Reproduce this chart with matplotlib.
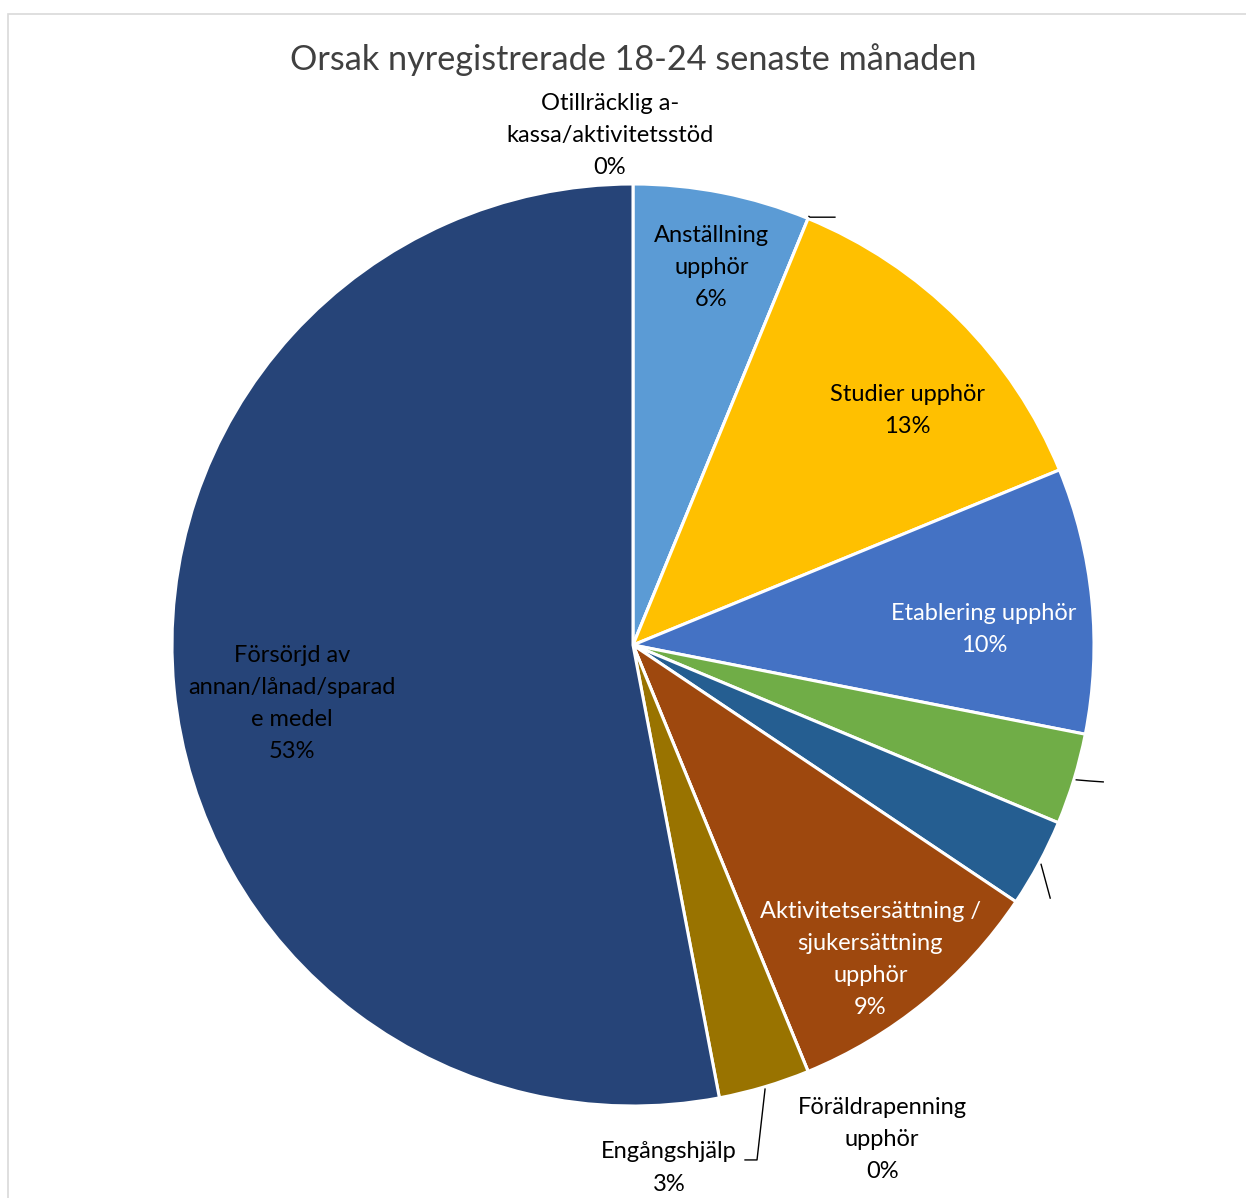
import numpy as np
import matplotlib.pyplot as plt
from matplotlib.patches import Rectangle

# data (shares in %, clockwise from 12 o'clock)
categories = ["Otillräcklig a-\nkassa/aktivitetsstöd", "Anställning\nupphör", "",
              "Studier upphör", "Etablering upphör", "", "",
              "Aktivitetsersättning /\nsjukersättning\nupphör", "Föräldrapenning\nupphör",
              "Engångshjälp", "Försörjd av\nannan/lånad/sparad\ne medel"]
shares = [0.0, 6.2, 0.0, 12.6, 9.3, 3.2, 3.1, 9.4, 0.0, 3.2, 53.0]
pct_labels = ["0%", "6%", "", "13%", "10%", "", "", "9%", "0%", "3%", "53%"]

# styling
colors = ["#4472C4", "#5B9BD5", "#ED7D31", "#FFC000", "#4472C4", "#70AD47", "#255E91",
          "#9E480E", "#636363", "#997300", "#264478"]
text_colors = ["black", "black", "black", "black", "white", "black", "black",
               "white", "black", "black", "black"]
label_r = [1.107, 0.836, 0, 0.783, 0.762, 0, 0, 0.855, 1.202, 1.137, 0.751]
label_shift = [2.6, -0.6, 0, -4.4, -3.1, 0, 0, -2.2, 4.4, -12.6, 4.3]
FS = 17

plt.rcParams['font.family'] = ['Lato', 'DejaVu Sans']

W, H = 1246, 1198
fig = plt.figure(figsize=(W / 100, H / 100), dpi=100)
fig.patches.append(Rectangle((8 / W, -0.1), 1.2, 1 - 14 / H + 0.1, transform=fig.transFigure,
                             fill=False, edgecolor="#D9D9D9", linewidth=1.2))

cx, cy, R = 633, 645, 461
ax = fig.add_axes([(cx - R) / W, (H - cy - R) / H, 2 * R / W, 2 * R / H])

wedges, _ = ax.pie(shares, colors=colors, startangle=90, counterclock=False, radius=1,
                   wedgeprops=dict(edgecolor="white", linewidth=2.2))
ax.set_xlim(-1, 1)
ax.set_ylim(-1, 1)
ax.axis("off")

for i, w in enumerate(wedges):
    if not categories[i]:
        continue
    mid = np.deg2rad((w.theta1 + w.theta2) / 2 + label_shift[i])
    x, y = label_r[i] * np.cos(mid), label_r[i] * np.sin(mid)
    txt = categories[i] + "\n" + pct_labels[i]
    if categories[i] == "Engångshjälp":
        ax.text(x, y + 0.035, categories[i], ha="center", va="center", fontsize=FS,
                color=text_colors[i])
        ax.text(x, y - 0.035, pct_labels[i], ha="center", va="center", fontsize=FS,
                color=text_colors[i])
    else:
        ax.text(x, y, txt, ha="center", va="center", fontsize=FS, color=text_colors[i],
                linespacing=1.65)


def edge(w):
    a = np.deg2rad((w.theta1 + w.theta2) / 2)
    return np.cos(a), np.sin(a)


# leader lines (elbow points are layout only)
leaders = [(2, [(0.384, 0.928), (0.438, 0.928)]),
           (5, [(0.991, -0.295), (1.020, -0.297)]),
           (6, [(0.905, -0.549)]),
           (9, [(0.269, -1.117), (0.243, -1.117)])]
for idx, pts in leaders:
    x0, y0 = edge(wedges[idx])
    xs = [x0 * 1.005] + [p[0] for p in pts]
    ys = [y0 * 1.005] + [p[1] for p in pts]
    ax.plot(xs, ys, color="black", linewidth=1, clip_on=False)

fig.text(cx / W, 1 - 60 / H, "Orsak nyregistrerade 18-24 senaste månaden", ha="center",
         va="center", fontsize=24.7, color="#404040")

fig.savefig("out.png", dpi=100)
